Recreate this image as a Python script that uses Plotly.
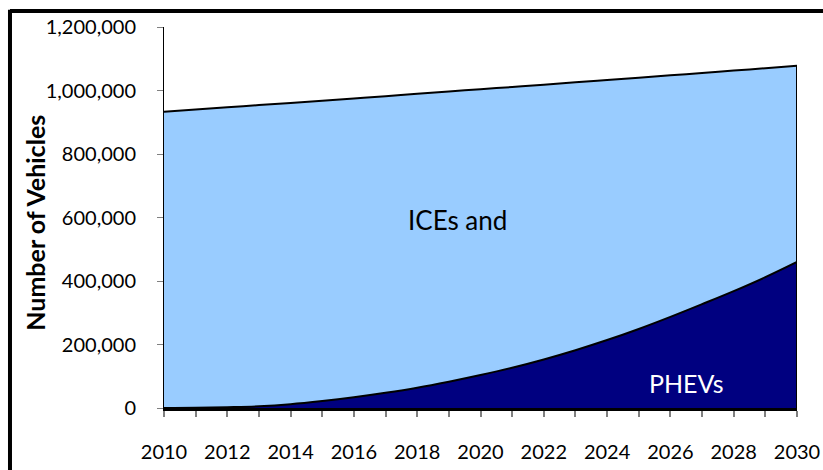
import plotly.graph_objects as go

years = list(range(2010, 2031))

# Plug-in hybrid fleet (bottom band)
phev = [0, 500, 2500, 5500, 12000, 22000, 34000, 48000, 64000, 83000, 104000,
        127000, 153000, 182000, 214000, 249000, 287000, 327000, 368000, 412000, 460000]

# Total fleet (top of the light band: ICEs and PHEVs combined)
total_fleet = [933000, 940000, 947000, 954000, 961000, 968000, 975000, 982000, 990000,
               997000, 1004000, 1011000, 1018000, 1026000, 1033000, 1040000, 1048000,
               1055000, 1063000, 1070000, 1078000]

y_ticks = [0, 200000, 400000, 600000, 800000, 1000000, 1200000]
y_tick_labels = ["0", "200,000", "400,000", "600,000", "800,000", "1,000,000", "1,200,000"]

FONT = "Lato"
LIGHT = "#99CCFF"
DARK = "#000080"

fig = go.Figure()

fig.add_trace(go.Scatter(
    x=years, y=phev, mode="lines", fill="tozeroy",
    fillcolor=DARK, line=dict(color="black", width=2, shape="spline", smoothing=1.0),
    hoverinfo="skip",
))
fig.add_trace(go.Scatter(
    x=years, y=total_fleet, mode="lines", fill="tonexty",
    fillcolor=LIGHT, line=dict(color="black", width=2, shape="spline", smoothing=1.0),
    hoverinfo="skip",
))
# closing edge of the stacked areas at the final year
fig.add_trace(go.Scatter(
    x=[years[-1], years[-1]], y=[0, total_fleet[-1]], mode="lines",
    line=dict(color="black", width=2), hoverinfo="skip",
))

fig.add_annotation(x=2019.26, y=592000, text="ICEs and", showarrow=False,
                   font=dict(family=FONT, size=26, color="black"))
fig.add_annotation(x=2026.5, y=79000, text="PHEVs", showarrow=False,
                   font=dict(family=FONT, size=25, color="white"))

fig.add_annotation(xref="paper", yref="paper", x=-0.204, y=0.486,
                   xanchor="center", yanchor="middle",
                   text="<b>Number of Vehicles</b>", textangle=-90, showarrow=False,
                   font=dict(family=FONT, size=25, color="black"))

# outer frame lines (left and top)
fig.add_shape(type="line", xref="paper", yref="paper",
              x0=-0.2433, x1=-0.2433, y0=-0.3, y1=1.045,
              line=dict(color="black", width=4))
fig.add_shape(type="line", xref="paper", yref="paper",
              x0=-0.2433, x1=1.1, y0=1.042, y1=1.042,
              line=dict(color="black", width=4))

fig.update_layout(
    width=823, height=470,
    margin=dict(l=164, r=26, t=27, b=62, autoexpand=False),
    paper_bgcolor="white", plot_bgcolor="white",
    showlegend=False,
    font=dict(family=FONT, size=20, color="black"),
    xaxis=dict(
        range=[2010, 2030], tickmode="linear", tick0=2010, dtick=2,
        ticks="outside", ticklen=6, tickcolor="#808080", tickwidth=2,
        minor=dict(dtick=1, ticks="outside", ticklen=6, tickcolor="#808080", tickwidth=2),
        showline=True, linecolor="black", linewidth=3,
        showgrid=False, zeroline=False, ticklabelstandoff=18, automargin=False,
        tickfont=dict(family=FONT, size=20, color="black"),
    ),
    yaxis=dict(
        range=[0, 1200000], tickmode="array", tickvals=y_ticks, ticktext=y_tick_labels,
        ticks="outside", ticklen=6, tickcolor="#808080", tickwidth=1,
        showline=True, linecolor="black", linewidth=1,
        showgrid=False, zeroline=False, ticklabelstandoff=17, automargin=False,
        tickfont=dict(family=FONT, size=20, color="black"),
    ),
)

fig.write_html("out.html")
